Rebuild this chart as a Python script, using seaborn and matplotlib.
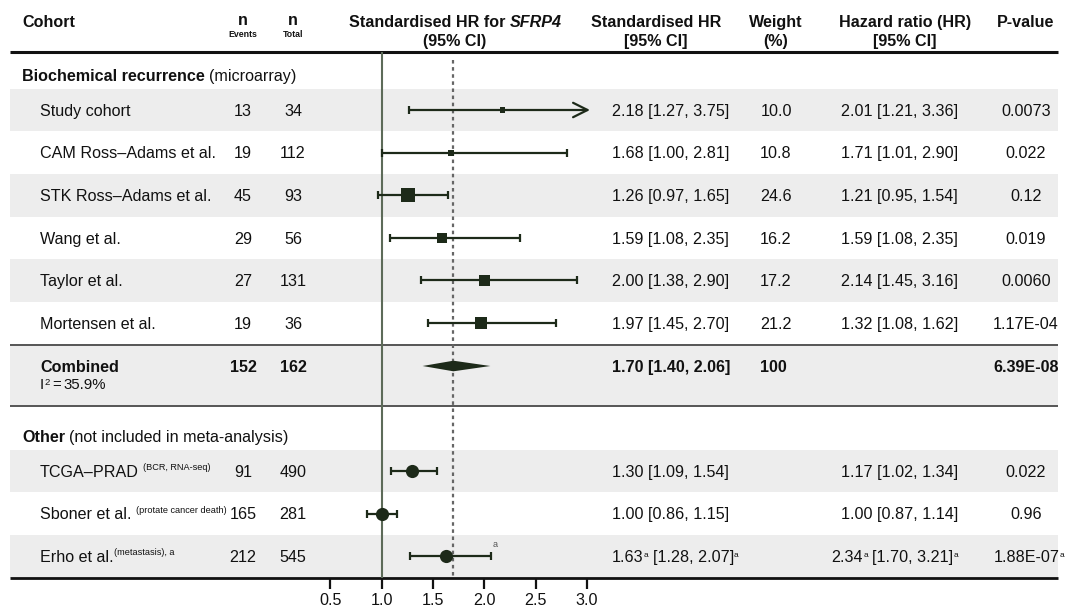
import matplotlib
matplotlib.use("Agg")
import matplotlib.pyplot as plt
import numpy as np
import pandas as pd
import seaborn as sns

# ---------------- data ----------------
bcr_cohorts = ["Study cohort", "CAM Ross–Adams et al.", "STK Ross–Adams et al.",
               "Wang et al.", "Taylor et al.", "Mortensen et al."]
bcr_events = [13, 19, 45, 29, 27, 19]
bcr_total = [34, 112, 93, 56, 131, 36]
bcr_shr = [2.18, 1.68, 1.26, 1.59, 2.00, 1.97]
bcr_shr_lo = [1.27, 1.00, 0.97, 1.08, 1.38, 1.45]
bcr_shr_hi = [3.75, 2.81, 1.65, 2.35, 2.90, 2.70]
bcr_weight = [10.0, 10.8, 24.6, 16.2, 17.2, 21.2]
bcr_hr = [2.01, 1.71, 1.21, 1.59, 2.14, 1.32]
bcr_hr_lo = [1.21, 1.01, 0.95, 1.08, 1.45, 1.08]
bcr_hr_hi = [3.36, 2.90, 1.54, 2.35, 3.16, 1.62]
bcr_p = ["0.0073", "0.022", "0.12", "0.019", "0.0060", "1.17E-04"]

comb_events = 152
comb_total = 162
comb_shr = 1.70
comb_shr_lo = 1.40
comb_shr_hi = 2.06
comb_weight = "100"
comb_p = "6.39E-08"
comb_i2 = "35.9%"

oth_cohorts = ["TCGA–PRAD", "Sboner et al.", "Erho et al."]
oth_notes = ["(BCR, RNA-seq)", "(protate cancer death)", "(metastasis), a"]
oth_events = [91, 165, 212]
oth_total = [490, 281, 545]
oth_shr = [1.30, 1.00, 1.63]
oth_shr_lo = [1.09, 0.86, 1.28]
oth_shr_hi = [1.54, 1.15, 2.07]
oth_hr = [1.17, 1.00, 2.34]
oth_hr_lo = [1.02, 0.87, 1.70]
oth_hr_hi = [1.34, 1.14, 3.21]
oth_p = ["0.022", "0.96", "1.88E-07"]
oth_footnote = [False, False, True]

xticks = [0.5, 1.0, 1.5, 2.0, 2.5, 3.0]
ref_line = 1.0

# ---------------- style ----------------
sns.set_theme(style="white")
plt.rcParams["font.family"] = ["Liberation Sans", "DejaVu Sans"]

W, H = 1068, 611
PT = 100 / 72.0
FS = 11.6
SUP = 6.6
TXT = "#111111"
DARK = "#1d2a19"
BAND = "#ededed"

fig = plt.figure(figsize=(W / 100, H / 100), dpi=100)
bg = fig.add_axes([0, 0, 1, 1])
bg.set_xlim(0, W)
bg.set_ylim(H, 0)
bg.axis("off")
renderer = fig.canvas.get_renderer()


def segs_text(x, y, segs, ha="left", base=FS, ax=bg):
    """Lay out a list of text segments on one line; y = visual centre of base text."""
    items = []
    for s in segs:
        if "gap" in s:
            items.append((None, s["gap"], s))
            continue
        t = ax.text(0, 0, s["t"], fontsize=s.get("size", base),
                    fontweight=s.get("w", "normal"), fontstyle=s.get("st", "normal"),
                    color=s.get("c", TXT), ha="left", va="baseline")
        wdt = t.get_window_extent(renderer=renderer).width
        items.append((t, wdt, s))
    total = sum(w for _, w, _ in items)
    x0 = x if ha == "left" else (x - total / 2 if ha == "center" else x - total)
    baseline = y + 0.358 * base * PT
    cx = x0
    for t, wdt, s in items:
        if t is not None:
            t.set_position((cx, baseline - s.get("rise", 0)))
        cx += wdt


def sp(size=FS):
    return {"gap": 0.278 * size * PT}


# ---------------- layout ----------------
X_L, X_R = 10, 1058
X_NAME_HDR, X_NAME = 22, 40
X_EV, X_TOT = 243, 293
X_FOREST = 455
X_SHR = 612
X_SHR_HDR = 656
X_WT = 776
X_HR = 958
X_HR_HDR = 905
X_P = 1026

Y_HDR1, Y_HDR2 = 21, 40
Y_TOPLINE = 52
Y_SEC1 = 75
ROW_H = 42.6
y_bcr = [110 + i * ROW_H for i in range(len(bcr_cohorts))]
Y_LINE1 = 345
Y_COMB, Y_I2 = 366, 384
Y_LINE2 = 406
Y_SEC2 = 436
y_oth = [471 + i * ROW_H for i in range(len(oth_cohorts))]
Y_BOTTOM = 578

# bands
for i, y in enumerate(y_bcr):
    if i % 2 == 0:
        bg.fill_between([X_L, X_R], y - ROW_H / 2, y + ROW_H / 2, color=BAND, lw=0, zorder=0)
bg.fill_between([X_L, X_R], Y_LINE1, Y_LINE2, color=BAND, lw=0, zorder=0)
for i, y in enumerate(y_oth):
    if i % 2 == 0:
        bg.fill_between([X_L, X_R], y - ROW_H / 2, y + ROW_H / 2, color=BAND, lw=0, zorder=0)

# horizontal rules
bg.hlines(Y_TOPLINE, X_L, X_R, color="#111111", lw=2.2)
bg.hlines([Y_LINE1, Y_LINE2], X_L, X_R, color="#555555", lw=1.4)
bg.hlines(Y_BOTTOM, X_L, X_R, color="#111111", lw=2.0)

# headers
B = "bold"
segs_text(X_NAME_HDR, Y_HDR1, [{"t": "Cohort", "w": B}])
for xc, sub in [(X_EV, "Events"), (X_TOT, "Total")]:
    segs_text(xc, Y_HDR1 - 2, [{"t": "n", "w": B}], ha="center")
    segs_text(xc, Y_HDR1 + 13, [{"t": sub, "w": B, "size": 6.3}], ha="center", base=6.3)
segs_text(X_FOREST, Y_HDR1, [{"t": "Standardised HR for", "w": B}, sp(),
                             {"t": "SFRP4", "w": B, "st": "italic"}], ha="center")
segs_text(X_FOREST, Y_HDR2, [{"t": "(95% CI)", "w": B}], ha="center")
segs_text(X_SHR_HDR, Y_HDR1, [{"t": "Standardised HR", "w": B}], ha="center")
segs_text(X_SHR_HDR, Y_HDR2, [{"t": "[95% CI]", "w": B}], ha="center")
segs_text(X_WT, Y_HDR1, [{"t": "Weight", "w": B}], ha="center")
segs_text(X_WT, Y_HDR2, [{"t": "(%)", "w": B}], ha="center")
segs_text(X_HR_HDR, Y_HDR1, [{"t": "Hazard ratio (HR)", "w": B}], ha="center")
segs_text(X_HR_HDR, Y_HDR2, [{"t": "[95% CI]", "w": B}], ha="center")
segs_text(X_P, Y_HDR1, [{"t": "P-value", "w": B}], ha="center")

# section 1
segs_text(X_NAME_HDR, Y_SEC1, [{"t": "Biochemical recurrence", "w": B}, sp(),
                               {"t": "(microarray)"}])


def ci(e, lo, hi):
    return f"{e:.2f} [{lo:.2f}, {hi:.2f}]"


for i, y in enumerate(y_bcr):
    segs_text(X_NAME, y, [{"t": bcr_cohorts[i]}])
    segs_text(X_EV, y, [{"t": str(bcr_events[i])}], ha="center")
    segs_text(X_TOT, y, [{"t": str(bcr_total[i])}], ha="center")
    segs_text(X_SHR, y, [{"t": ci(bcr_shr[i], bcr_shr_lo[i], bcr_shr_hi[i])}])
    segs_text(X_WT, y, [{"t": f"{bcr_weight[i]:.1f}"}], ha="center")
    segs_text(X_HR, y, [{"t": ci(bcr_hr[i], bcr_hr_lo[i], bcr_hr_hi[i])}], ha="right")
    segs_text(X_P, y, [{"t": bcr_p[i]}], ha="center")

# combined
segs_text(X_NAME, Y_COMB, [{"t": "Combined", "w": B}])
I2S = 10.8
segs_text(X_NAME, Y_I2, [{"t": "I", "size": I2S}, {"t": "2", "size": 6.8, "rise": 4.5},
                         {"gap": 2.5}, {"t": "=", "size": I2S}, {"gap": 2.5},
                         {"t": comb_i2, "size": I2S}], base=I2S)
segs_text(X_EV, Y_COMB, [{"t": str(comb_events), "w": B}], ha="center")
segs_text(X_TOT, Y_COMB, [{"t": str(comb_total), "w": B}], ha="center")
segs_text(X_SHR, Y_COMB, [{"t": ci(comb_shr, comb_shr_lo, comb_shr_hi), "w": B}])
segs_text(X_WT - 3, Y_COMB, [{"t": comb_weight, "w": B}], ha="center")
segs_text(X_P, Y_COMB, [{"t": comb_p, "w": B}], ha="center")

# section 2
segs_text(X_NAME_HDR, Y_SEC2, [{"t": "Other", "w": B}, sp(),
                               {"t": "(not included in meta-analysis)"}])
RISE = 6.5
for i, y in enumerate(y_oth):
    name = [{"t": oth_cohorts[i]}]
    if oth_notes[i].startswith("(metastasis"):
        name += [{"gap": 0.5}, {"t": oth_notes[i], "size": SUP, "rise": RISE}]
    else:
        name += [sp(), {"t": oth_notes[i], "size": SUP, "rise": RISE}]
    segs_text(X_NAME, y, name)
    segs_text(X_EV, y, [{"t": str(oth_events[i])}], ha="center")
    segs_text(X_TOT, y, [{"t": str(oth_total[i])}], ha="center")
    fn = oth_footnote[i]
    if fn:
        a = {"t": "a", "size": 6.0, "rise": 5}
        segs_text(X_SHR, y, [{"t": f"{oth_shr[i]:.2f}"}, a, sp(),
                             {"t": f"[{oth_shr_lo[i]:.2f}, {oth_shr_hi[i]:.2f}]"}, a])
        segs_text(X_HR, y, [{"t": f"{oth_hr[i]:.2f}"}, a, sp(),
                            {"t": f"[{oth_hr_lo[i]:.2f}, {oth_hr_hi[i]:.2f}]"}, a],
                  ha="right")
        segs_text(X_P + 3, y, [{"t": oth_p[i]}, a], ha="center")
    else:
        segs_text(X_SHR, y, [{"t": ci(oth_shr[i], oth_shr_lo[i], oth_shr_hi[i])}])
        segs_text(X_HR, y, [{"t": ci(oth_hr[i], oth_hr_lo[i], oth_hr_hi[i])}], ha="right")
        segs_text(X_P, y, [{"t": oth_p[i]}], ha="center")

# ---------------- forest axes ----------------
PX0, PX1 = 320, 600
ONE_PX, PX_PER_UNIT = 381.5, 102.7
fax = fig.add_axes([PX0 / W, (H - Y_BOTTOM) / H, (PX1 - PX0) / W, (Y_BOTTOM - Y_TOPLINE) / H])
fax.patch.set_alpha(0)
fax.set_xlim(1 + (PX0 - ONE_PX) / PX_PER_UNIT, 1 + (PX1 - ONE_PX) / PX_PER_UNIT)
fax.set_ylim(Y_BOTTOM, Y_TOPLINE)
for s in fax.spines.values():
    s.set_visible(False)
fax.set_yticks([])
fax.set_xticks(xticks)
fax.set_xticklabels([f"{t:.1f}" for t in xticks])
fax.tick_params(axis="x", direction="out", length=8, width=1.6, colors="#111111",
                labelsize=FS, labelcolor=TXT, pad=3, bottom=True)

fax.axvline(ref_line, color="#5d6b59", lw=1.5, zorder=1)
fax.vlines(comb_shr, 60, Y_BOTTOM, color="#666666", lw=1.6, linestyles=(0, (1.6, 1.6)), zorder=1)

x_clip = 1 + (590 - ONE_PX) / PX_PER_UNIT
LW = 1.6
all_y = y_bcr + y_oth
all_est = bcr_shr + oth_shr
all_lo = bcr_shr_lo + oth_shr_lo
all_hi = bcr_shr_hi + oth_shr_hi
for y, e, lo, hi in zip(all_y, all_est, all_lo, all_hi):
    if hi > x_clip:
        fax.annotate("", xy=(x_clip, y), xytext=(lo, y),
                     arrowprops=dict(arrowstyle="->", lw=LW, color=DARK,
                                     mutation_scale=26, shrinkA=0, shrinkB=0), zorder=2)
        fax.plot([lo], [y], marker="|", ms=5.5, mew=LW, color=DARK, zorder=2)
    else:
        fax.hlines(y, lo, hi, color=DARK, lw=LW, zorder=2)
        fax.plot([lo, hi], [y, y], ls="none", marker="|", ms=5.5, mew=LW, color=DARK, zorder=2)

df_bcr = pd.DataFrame({"est": bcr_shr, "y": y_bcr, "weight": bcr_weight})
sns.scatterplot(data=df_bcr, x="est", y="y", size="weight", sizes=(14, 105), marker="s",
                color=DARK, edgecolor=DARK, linewidth=0, legend=False, ax=fax, zorder=3)
df_oth = pd.DataFrame({"est": oth_shr, "y": y_oth})
sns.scatterplot(data=df_oth, x="est", y="y", s=90, marker="o", color=DARK,
                edgecolor=DARK, linewidth=0, legend=False, ax=fax, zorder=3)
fax.set_xlabel("")
fax.set_ylabel("")

# combined diamond
fax.fill([comb_shr_lo, comb_shr, comb_shr_hi, comb_shr],
         [Y_COMB, Y_COMB - 5.3, Y_COMB, Y_COMB + 5.3], color=DARK, lw=0, zorder=3)

# footnote on Erho CI
for y, hi, fn in zip(y_oth, oth_shr_hi, oth_footnote):
    if fn:
        fax.annotate("a", xy=(hi, y), xytext=(1, 5), textcoords="offset points",
                     fontsize=6.5, color="#555555", ha="left", va="bottom")

fig.savefig("out.png", dpi=100)
